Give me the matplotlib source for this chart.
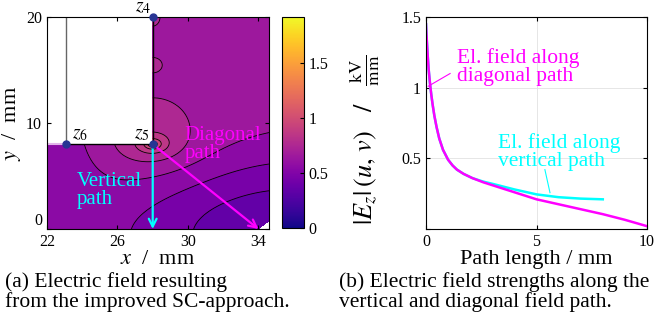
import numpy as np
import matplotlib
matplotlib.use('Agg')
import matplotlib.pyplot as plt
from matplotlib import cm, colors

plt.rcParams['font.family'] = ['Liberation Serif', 'DejaVu Serif']
plt.rcParams['mathtext.fontset'] = 'stix'

# (a) geometry: corner points of the electrode
corner_names = ['$z_4$', '$z_5$', '$z_6$']
corner_x = [28.0, 28.0, 23.1]
corner_y = [20.0, 8.0, 8.0]
vertical_end = (28.0, 0.0)
diagonal_end = (34.0, 0.0)

# (a) field model: level, two shallow wells, log singularity at z5, edge bumps
field_level = 0.625
well_x = [35.0, 22.0]
well_y = [0.0, 8.0]
well_sx = [10.0, 3.0]
well_sy = [7.9, 8.0]
well_depth = [0.35, 0.15]
corner_gain = 0.18
corner_radius = 3.06
bump_x = [28.0, 28.0]
bump_y = [20.0, 15.5]
bump_sx = [0.45, 0.45]
bump_sy = [0.9, 0.6]
bump_height = [0.08, 0.08]
levels = np.arange(0.0, 2.0, 0.1)

# (b) field strength along the two paths
diag_len = [0, 0.02, 0.05, 0.08, 0.12, 0.18, 0.24, 0.3, 0.38, 0.48, 0.6,
            0.77, 1.0, 1.2, 1.4, 1.7, 2.1, 2.6, 3.0, 4.0, 5.0, 6.0, 7.0,
            8.0, 9.0, 10.0]
diag_E = [1.45, 1.38, 1.3, 1.22, 1.13, 1.03, 0.95, 0.88, 0.8, 0.72, 0.64,
          0.56, 0.49, 0.45, 0.42, 0.39, 0.36, 0.33, 0.31, 0.26, 0.21, 0.175,
          0.14, 0.105, 0.065, 0.02]
vert_len = [0, 0.02, 0.05, 0.08, 0.12, 0.18, 0.24, 0.3, 0.38, 0.48, 0.6,
            0.77, 1.0, 1.2, 1.4, 1.7, 2.1, 2.6, 3.0, 4.0, 5.0, 6.0, 7.0, 8.0]
vert_E = [1.45, 1.38, 1.3, 1.22, 1.13, 1.03, 0.95, 0.88, 0.8, 0.72, 0.64,
          0.56, 0.49, 0.45, 0.42, 0.39, 0.36, 0.335, 0.32, 0.28, 0.245,
          0.225, 0.215, 0.21]

fig = plt.figure(figsize=(6.57, 3.25), dpi=100)
W, H = 657, 325

# ---- (a) ----
ax1 = fig.add_axes([47 / W, 96 / H, 222 / W, 212 / H])
xx, yy = np.meshgrid(np.linspace(22, 34.6, 631), np.linspace(0, 20, 1001))
E = np.full_like(xx, field_level)
for cx, cy, sx, sy, d in zip(well_x, well_y, well_sx, well_sy, well_depth):
    E -= d * np.exp(-((xx - cx) / sx) ** 2 - ((yy - cy) / sy) ** 2)
for cx, cy, sx, sy, h in zip(bump_x, bump_y, bump_sx, bump_sy, bump_height):
    E += h * np.exp(-((xx - cx) / sx) ** 2 - ((yy - cy) / sy) ** 2)
r = np.hypot(xx - corner_x[1], yy - corner_y[1])
E += corner_gain * np.log(1 + corner_radius / np.maximum(r, 0.03))
E = np.minimum(E, 1.89)
outside = ((xx < 28) & (yy > 8)) | (yy < 1.3 * (xx - 34.0))
E = np.ma.masked_where(outside, E)

norm = colors.Normalize(vmin=0, vmax=1.92)
ax1.contourf(xx, yy, E, levels=levels, cmap='plasma', norm=norm)
ax1.contour(xx, yy, E, levels=levels, colors='k', linewidths=0.6)

ax1.plot([22, 23.1], [8, 8], color='#e2b4ea', lw=1.5)
ax1.plot([23.1, 23.1], [8, 20], color='0.4', lw=1.0)
ax1.plot([23.1, 28, 28], [8, 8, 20], color='k', lw=1.0)

arrow = dict(lw=1.6, mutation_scale=14, shrinkA=0, shrinkB=0)
ax1.annotate('', xy=vertical_end, xytext=(corner_x[1], corner_y[1]),
             arrowprops=dict(arrowstyle='->', color='#00ffff', **arrow))
ax1.annotate('', xy=diagonal_end, xytext=(corner_x[1], corner_y[1]),
             arrowprops=dict(arrowstyle='->', color='#ff00ff', **arrow))

ax1.plot(corner_x, corner_y, 'o', color='#283593', ms=5, clip_on=False, zorder=5)
ax1.text(27.9, 20.05, corner_names[0], ha='right', va='bottom', fontsize=14)
ax1.text(27.8, 8.1, corner_names[1], ha='right', va='bottom', fontsize=14)
ax1.text(23.4, 8.1, corner_names[2], ha='left', va='bottom', fontsize=14)

ax1.text(29.8, 9.7, 'Diagonal\npath', color='#ff00ff', fontsize=15,
         va='top', linespacing=0.95)
ax1.text(23.7, 5.4, 'Vertical\npath', color='#00ffff', fontsize=15,
         va='top', linespacing=0.95)

ax1.set_xlim(22, 34.6)
ax1.set_ylim(0, 20)
ax1.set_xticks([22, 26, 30, 34])
ax1.set_yticks([0, 10, 20])
ax1.tick_params(direction='in', top=True, right=True, labelsize=11.5, length=3)
ax1.get_yticklabels()[0].set_verticalalignment('bottom')
ax1.set_xlabel('$x$  /  mm', fontsize=16, labelpad=0)
ax1.set_ylabel('$y$  /  mm', fontsize=16, labelpad=2)

cax = fig.add_axes([282 / W, 97 / H, 22 / W, 211 / H])
cb = fig.colorbar(cm.ScalarMappable(norm=norm, cmap='plasma'), cax=cax)
cb.set_ticks([0, 0.5, 1, 1.5])
cb.set_ticklabels(['0', '0.5', '1', '1.5'])
cax.tick_params(direction='in', labelsize=11.5, length=3)

# ---- (b) ----
ax2 = fig.add_axes([426 / W, 96 / H, 221 / W, 212 / H])
ax2.plot(vert_len, vert_E, color='#00ffff', lw=1.8)
ax2.plot(diag_len, diag_E, color='#ff00ff', lw=1.8)
ax2.set_xlim(0, 10)
ax2.set_ylim(0, 1.5)
ax2.set_xticks([0, 5, 10])
ax2.set_yticks([0, 0.5, 1, 1.5])
ax2.set_yticklabels(['', '0.5', '1', '1.5'])
ax2.grid(color='#e2e2e2', lw=0.6)
ax2.tick_params(direction='in', top=True, right=True, labelsize=11.5, length=3)
ax2.set_xlabel('Path length / mm', fontsize=16, labelpad=0)
ax2.set_ylabel(r'$|E_z|\,(u,\,v)\quad/\quad\frac{\mathrm{kV}}{\mathrm{mm}}$',
               fontsize=19)
ax2.yaxis.set_label_coords(-0.2, 0.42)

ax2.text(1.4, 1.28, 'El. field along\ndiagonal path', color='#ff00ff',
         fontsize=15.5, va='top', linespacing=0.95)
ax2.plot([1.09, 0.1], [1.1, 1.01], color='#ff00ff', lw=0.8)
ax2.text(3.25, 0.68, 'El. field along\nvertical path', color='#00ffff',
         fontsize=15.5, va='top', linespacing=0.95)
ax2.plot([5.38, 5.61], [0.42, 0.257], color='#00ffff', lw=0.8)

# captions
fig.text(5 / W, 1 - 272 / H, '(a) Electric field resulting\nfrom the improved SC-approach.',
         fontsize=15.5, va='top', linespacing=1.0)
fig.text(339 / W, 1 - 272 / H, '(b) Electric field strengths along the\nvertical and diagonal field path.',
         fontsize=15.5, va='top', linespacing=1.0)

fig.savefig('out.png', dpi=100)
